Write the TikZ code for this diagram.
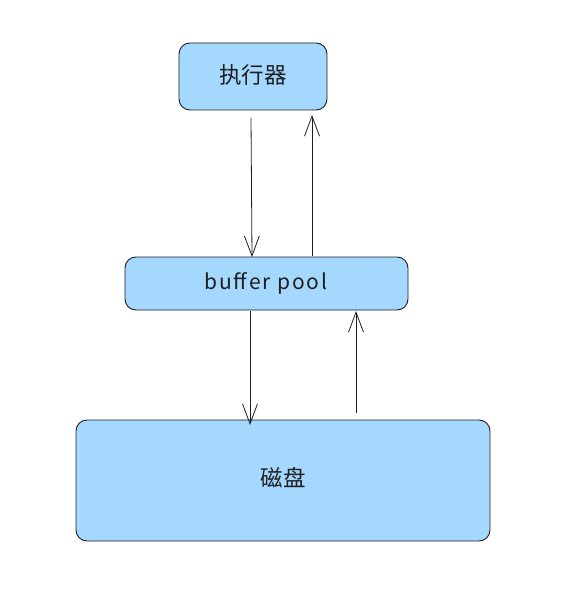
\documentclass[tikz,border=0pt]{standalone}
\usepackage{fontspec}
\setmainfont{Noto Sans CJK SC}
\usetikzlibrary{arrows.meta}
\definecolor{boxfill}{HTML}{A5D8FF}
\definecolor{ink}{HTML}{1E1E1E}
\tikzset{
  blk/.style={draw=ink, fill=boxfill, line width=0.9pt, rounded corners=11pt},
  conn/.style={draw=ink, line width=0.8pt, -{Straight Barb[length=20pt,width=15pt,line width=0.8pt]}},
  lbl/.style={text=ink, font=\fontsize{22.5pt}{26pt}\selectfont},
  latlbl/.style={text=ink, font=\fontsize{21pt}{24pt}\selectfont\addfontfeatures{LetterSpace=9}}
}
\begin{document}
\begin{tikzpicture}[x=1pt,y=-1pt]
\useasboundingbox (0,0) rectangle (562,593);
\path[blk] (179,43) rectangle (327,110);
\path[blk] (125,257) rectangle (408,310);
\path[blk] (76,420) rectangle (490,541);
\node[lbl] (exec) at (253,75) {执行器};
\node[latlbl] (pool) at (266,283) {buffer pool};
\node[lbl] (disk) at (283,478) {磁盘};
\coordinate (a1) at (251,118);
\coordinate (a2) at (252,257);
\coordinate (b1) at (312,256);
\coordinate (b2) at (312,115);
\coordinate (c1) at (250,311);
\coordinate (c2) at (250,425);
\coordinate (d1) at (356,413);
\coordinate (d2) at (356,311);
\draw[conn] (a1) -- (a2);
\draw[conn] (b1) -- (b2);
\draw[conn] (c1) -- (c2);
\draw[conn] (d1) -- (d2);
\end{tikzpicture}
\end{document}
